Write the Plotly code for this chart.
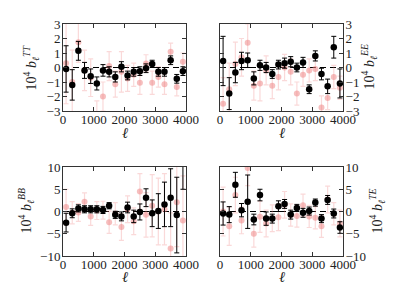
import plotly.graph_objects as go

ell = [100, 300, 500, 700, 900, 1100, 1300, 1500, 1700, 1900,
       2100, 2300, 2500, 2700, 2900, 3100, 3300, 3500, 3700, 3900]

# TT
tt_black = [-0.1, -1.2, 1.15, -0.2, -0.6, -1.1, -0.2, -0.3, -0.65, 0.05,
            -0.55, -0.3, -0.25, -0.05, 0.25, -0.3, -0.3, 0.5, -0.78, -0.25]
tt_black_err = [1.6, 1.05, 0.65, 0.55, 0.5, 0.45, 0.4, 0.35, 0.35, 0.35,
                0.3, 0.3, 0.3, 0.3, 0.25, 0.3, 0.3, 0.3, 0.3, 0.3]
tt_pink = [0.3, -1.0, 1.75, -0.2, -0.7, -3.3, -2.0, 0.1, -1.15, -0.3,
           -0.75, -0.5, -1.05, 0.28, -1.05, -0.65, -1.15, 1.08, -1.35, 0.4]
tt_pink_err = [2.8, 2.2, 1.4, 1.4, 1.3, 1.0, 1.0, 1.0, 0.9, 1.4,
               0.9, 0.8, 0.8, 0.6, 0.8, 0.7, 0.7, 0.6, 0.6, 0.6]

# EE
ee_black = [0.45, -1.8, -0.35, 0.45, 0.5, -0.75, 0.15, 0.0, -0.45, 0.2,
            0.3, 0.4, 0.0, 0.35, -1.5, 0.8, -0.45, -1.3, 1.4, -1.1]
ee_black_err = [1.7, 1.1, 0.7, 0.6, 0.5, 0.45, 0.35, 0.35, 0.3, 0.3,
                0.35, 0.35, 0.3, 0.35, 0.3, 0.35, 0.4, 0.5, 0.75, 1.0]
ee_pink = [-2.5, -1.5, 0.25, 0.7, 1.7, -1.25, -1.1, -0.2, -1.25, -0.65,
           0.0, -0.3, -1.8, -0.5, -0.2, -0.1, -2.75, -2.1, -0.65, -1.4]
ee_pink_err = [1.8, 1.8, 1.5, 1.3, 1.3, 1.0, 1.2, 1.0, 0.9, 0.9,
               0.9, 0.9, 0.8, 0.8, 0.8, 0.8, 0.8, 0.8, 0.8, 0.8]

# BB
bb_black = [-2.5, -0.4, 0.7, 0.5, 0.5, 0.5, 0.35, 1.3, -0.75, -1.1,
            0.9, -1.1, -0.1, 3.1, -0.4, 0.1, 1.6, 3.1, -0.8, 15.0]
bb_black_err = [2.1, 1.0, 0.8, 0.8, 0.8, 0.8, 0.8, 0.7, 0.8, 1.0,
                1.2, 1.4, 1.8, 2.0, 3.0, 3.9, 5.0, 6.5, 8.5, 10.0]
bb_pink = [1.0, -0.3, -0.2, 2.2, -1.1, 0.2, 0.3, -2.4, -0.5, -3.5,
           0.5, -2.2, 4.5, -0.75, 1.3, 0.0, 0.5, -8.3, 2.1, -2.0]
bb_pink_err = [4.0, 2.5, 2.0, 2.0, 2.0, 2.0, 2.0, 2.5, 2.5, 3.0,
               3.0, 3.0, 4.0, 5.0, 7.0, 7.5, 8.0, 8.0, 10.0, 10.0]

# TE
te_black = [-0.45, -0.7, 6.0, 0.3, 2.2, -1.8, 3.7, -1.6, -1.6, 1.2,
            1.7, -0.7, 0.8, -0.3, 0.1, 2.0, -1.6, 2.6, -0.45, -3.6]
te_black_err = [2.6, 1.8, 2.8, 1.5, 6.0, 1.2, 1.3, 1.5, 1.0, 1.2,
                1.0, 1.0, 0.8, 1.0, 0.9, 0.8, 0.9, 1.0, 1.0, 1.3]
te_pink = [0.0, -3.3, 3.7, -2.0, 9.8, -5.0, -1.2, -2.7, -1.5, -1.3,
           1.5, -0.8, -1.0, 1.4, -1.1, -1.4, -3.3, 2.7, -0.5, -2.7]
te_pink_err = [5.5, 4.3, 4.0, 3.0, 4.0, 3.0, 3.5, 3.0, 3.0, 3.0,
               3.0, 2.5, 2.5, 2.5, 2.5, 2.5, 2.5, 3.0, 2.5, 3.0]

x_ticks = [0, 1000, 2000, 3000, 4000]

panels = [
    ("TT", tt_black, tt_black_err, tt_pink, tt_pink_err, [-3, 3], [-3, -2, -1, 0, 1, 2, 3], "left"),
    ("EE", ee_black, ee_black_err, ee_pink, ee_pink_err, [-3, 3], [-3, -2, -1, 0, 1, 2, 3], "right"),
    ("BB", bb_black, bb_black_err, bb_pink, bb_pink_err, [-10, 10], [-10, -5, 0, 5, 10], "left"),
    ("TE", te_black, te_black_err, te_pink, te_pink_err, [-10, 10], [-10, -5, 0, 5, 10], "right"),
]

W, H = 407, 305
xdoms = {"left": [63 / W, 186 / W], "right": [220 / W, 343 / W]}
ydoms = [[1 - 111 / H, 1 - 24 / H], [1 - 111 / H, 1 - 24 / H],
         [1 - 256 / H, 1 - 167 / H], [1 - 256 / H, 1 - 167 / H]]
ytitle_x = [31 / W, 369 / W, 26 / W, 377 / W]
xtitle_y = [1 - 133 / H, 1 - 133 / H, 1 - 277 / H, 1 - 277 / H]

fig = go.Figure()
FONT = "Liberation Serif"
TXT = "#222"
pink_marker = "rgba(238,125,125,0.5)"
pink_err = "rgba(240,130,130,0.3)"

shapes = []
annotations = []
for i, (name, yb, eb, yp, ep, yr, yt, side) in enumerate(panels):
    suffix = "" if i == 0 else str(i + 1)
    xa, ya = f"x{suffix}", f"y{suffix}"
    fig.add_trace(go.Scatter(
        x=ell, y=yp, mode="markers", xaxis=xa, yaxis=ya,
        marker=dict(size=6, color=pink_marker),
        error_y=dict(type="data", array=ep, color=pink_err, thickness=1.2, width=2.5),
        showlegend=False, hoverinfo="skip"))
    fig.add_trace(go.Scatter(
        x=ell, y=yb, mode="markers", xaxis=xa, yaxis=ya,
        marker=dict(size=6.5, color="black"),
        error_y=dict(type="data", array=eb, color="black", thickness=1, width=2.5),
        showlegend=False, hoverinfo="skip"))
    shapes.append(dict(type="line", xref=f"x{suffix} domain", yref=ya,
                       x0=0, x1=1, y0=0, y1=0,
                       line=dict(color="black", width=1.2, dash="6px,4px"), layer="below"))
    axis_common = dict(showline=True, linecolor="#333", linewidth=1, mirror="ticks",
                       ticks="inside", ticklen=4, tickcolor="#333", showgrid=False,
                       zeroline=False, automargin=False,
                       tickfont=dict(family=FONT, size=13, color=TXT))
    fig.layout[f"xaxis{suffix}"] = dict(
        domain=xdoms[side], range=[0, 4000], tickvals=x_ticks,
        anchor=ya, ticklabelstandoff=-4, **axis_common)
    fig.layout[f"yaxis{suffix}"] = dict(
        domain=ydoms[i], range=yr, tickvals=yt, side=side,
        anchor=xa, ticklabelstandoff=-1, **axis_common)
    xd = xdoms[side]
    annotations.append(dict(
        text="<i>ℓ</i>", xref="paper", yref="paper",
        x=(xd[0] + xd[1]) / 2, y=xtitle_y[i], xanchor="center", yanchor="middle",
        showarrow=False, font=dict(family=FONT, size=15, color=TXT)))
    yd = ydoms[i]
    annotations.append(dict(
        text=f"10<sup>4</sup> <i>b</i><sub><i>ℓ</i></sub><sup><i>{name}</i></sup>",
        xref="paper", yref="paper", x=ytitle_x[i], y=(yd[0] + yd[1]) / 2,
        xanchor="center", yanchor="middle", textangle=-90,
        showarrow=False, font=dict(family=FONT, size=14, color=TXT)))

fig.update_layout(
    width=W, height=H, margin=dict(l=0, r=0, t=0, b=0),
    paper_bgcolor="white", plot_bgcolor="white",
    shapes=shapes, annotations=annotations, hovermode=False,
    font=dict(family=FONT, color=TXT))

fig.write_html("out.html", config={"displayModeBar": False, "staticPlot": True},
               post_script="document.body.style.margin='0';document.body.style.overflow='hidden';")
